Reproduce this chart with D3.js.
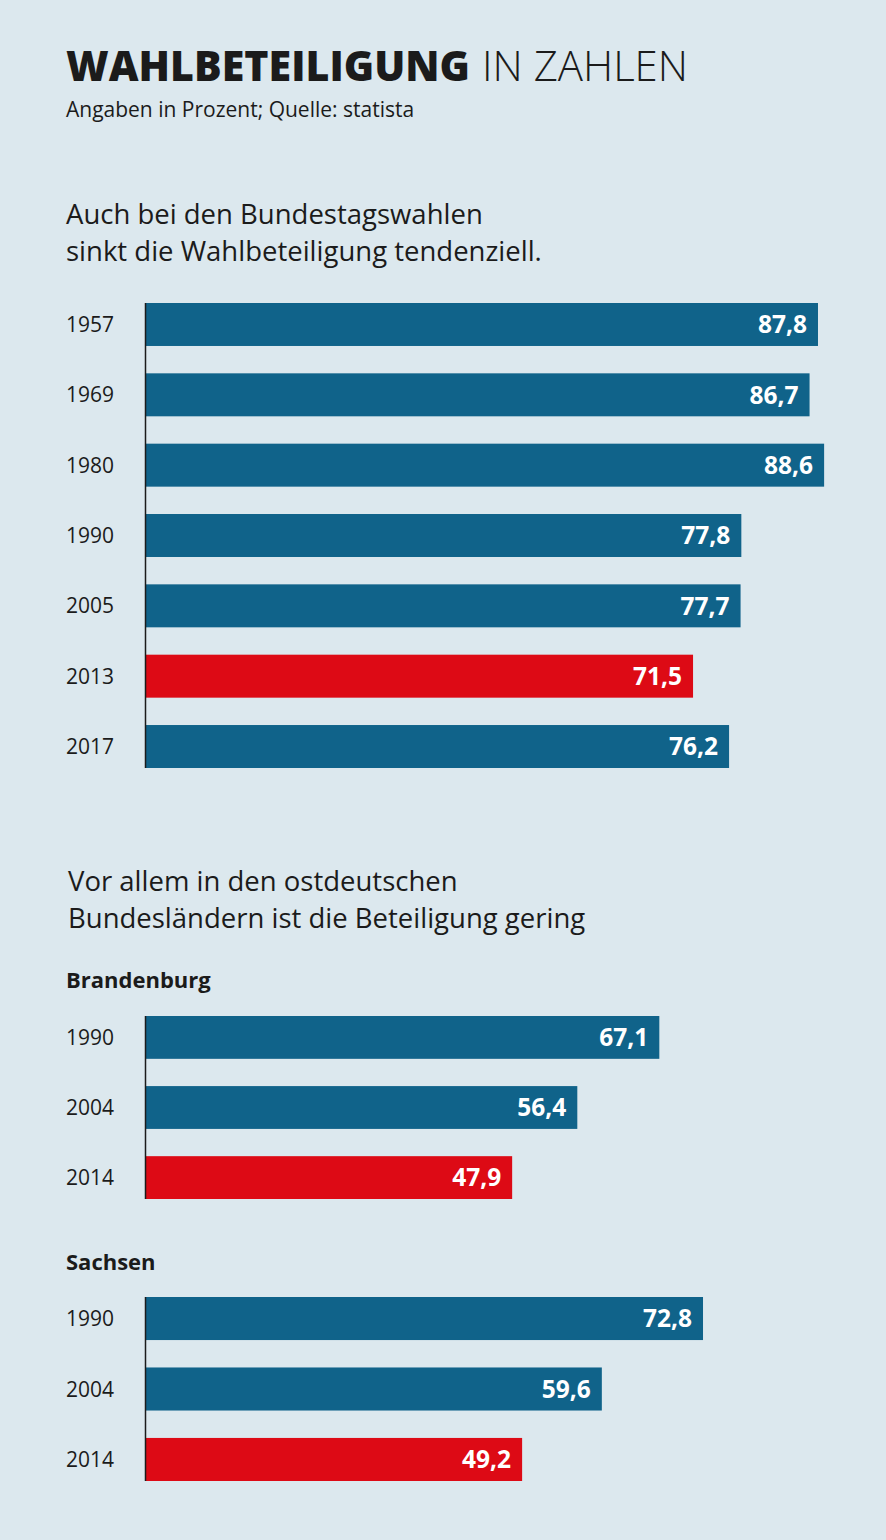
<!DOCTYPE html>
<html>
<head>
<meta charset="utf-8">
<script src="https://cdn.jsdelivr.net/npm/d3@7"></script>
<style>
  body { margin: 0; background: #dce8ee; }
  svg { display: block; font-family: "Open Sans", "Noto Sans", sans-serif; }
</style>
</head>
<body>
<script>

// Bundestagswahlen
var years_bund  = ["1957", "1969", "1980", "1990", "2005", "2013", "2017"];
var values_bund = [87.8, 86.7, 88.6, 77.8, 77.7, 71.5, 76.2];
var highlight_bund = "2013";

// Brandenburg
var years_bb  = ["1990", "2004", "2014"];
var values_bb = [67.1, 56.4, 47.9];

// Sachsen
var years_sn  = ["1990", "2004", "2014"];
var values_sn = [72.8, 59.6, 49.2];
var highlight_land = "2014";

var size_graph = { x : 886, y : 1540 };

var blue = "#10638a",
    red  = "#dd0a15",
    ink  = "#1b1b1b";

var de = d3.formatLocale({decimal: ",", thousands: ".", grouping: [3], currency: ["", " €"]});
var f = de.format(".1f");

var x = d3.scaleLinear()
    .domain([0, 100])
    .range([145, 911.5]);

var svg = d3.select("body").append("svg")
    .attr("width", size_graph.x)
    .attr("height", size_graph.y);

svg.append("rect")
    .attr("width", size_graph.x)
    .attr("height", size_graph.y)
    .attr("fill", "#dce8ee");

// title
var title = svg.append("text")
    .attr("x", 66)
    .attr("y", 81)
    .attr("fill", ink)
    .style("font-size", "42px");
title.append("tspan")
    .style("font-weight", 800)
    .attr("textLength", 404)
    .attr("lengthAdjust", "spacingAndGlyphs")
    .text("WAHLBETEILIGUNG");
title.append("tspan")
    .attr("dx", 12)
    .style("font-weight", 300)
    .attr("textLength", 206)
    .attr("lengthAdjust", "spacingAndGlyphs")
    .text("IN ZAHLEN");

svg.append("text")
    .attr("x", 66)
    .attr("y", 117)
    .attr("fill", ink)
    .style("font-size", "21px")
    .text("Angaben in Prozent; Quelle: statista");

const heading = (lines, x0, y0) => {
    svg.append("g")
        .selectAll("text")
        .data(lines)
        .enter()
        .append("text")
        .attr("x", x0)
        .attr("y", (d, i) => y0 + i * 37)
        .attr("fill", ink)
        .style("font-size", "27.5px")
        .text(d => d);
}

const subheading = (label, y0) => {
    svg.append("text")
        .attr("x", 66)
        .attr("y", y0)
        .attr("fill", ink)
        .style("font-size", "22px")
        .style("font-weight", 700)
        .text(label);
}

const make_bars = (years, values, hi, top, bottom) => {
    var data = years.map((d, i) => ({year: d, value: values[i]}));

    var y = d3.scaleBand()
        .domain(years)
        .range([top, bottom])
        .paddingInner(0.389)
        .paddingOuter(0);

    var g = svg.append("g");

    g.selectAll(".bar")
        .data(data)
        .enter()
        .append("rect")
        .attr("class", "bar")
        .attr("x", x(0))
        .attr("y", d => y(d.year))
        .attr("width", d => x(d.value) - x(0))
        .attr("height", y.bandwidth())
        .attr("fill", d => d.year === hi ? red : blue);

    g.selectAll(".val")
        .data(data)
        .enter()
        .append("text")
        .attr("class", "val")
        .attr("x", d => x(d.value) - 11)
        .attr("y", d => y(d.year) + y.bandwidth() / 2)
        .attr("dy", "0.36em")
        .attr("text-anchor", "end")
        .attr("fill", "#fff")
        .style("font-size", "24.5px")
        .style("font-weight", 700)
        .text(d => f(d.value));

    var yAxis = d3.axisLeft(y).tickSize(0).tickPadding(0);

    var ax = g.append("g")
        .attr("transform", `translate(${x(0)},0)`)
        .call(yAxis);
    ax.select(".domain")
        .attr("d", `M0.5,${top}V${bottom}`)
        .attr("stroke", ink)
        .attr("stroke-width", 1.5);
    ax.selectAll(".tick text")
        .attr("x", 66 - x(0))
        .attr("dy", "0.36em")
        .attr("text-anchor", "start")
        .attr("fill", ink)
        .style("font-family", "'Open Sans', sans-serif")
        .style("font-size", "21px");
}

heading(["Auch bei den Bundestagswahlen", "sinkt die Wahlbeteiligung tendenziell."], 66, 224);
make_bars(years_bund, values_bund, highlight_bund, 303, 768);

heading(["Vor allem in den ostdeutschen", "Bundesländern ist die Beteiligung gering"], 68, 891);

subheading("Brandenburg", 988);
make_bars(years_bb, values_bb, highlight_land, 1016, 1199);

subheading("Sachsen", 1270);
make_bars(years_sn, values_sn, highlight_land, 1297, 1481);

</script>
</body>
</html>
